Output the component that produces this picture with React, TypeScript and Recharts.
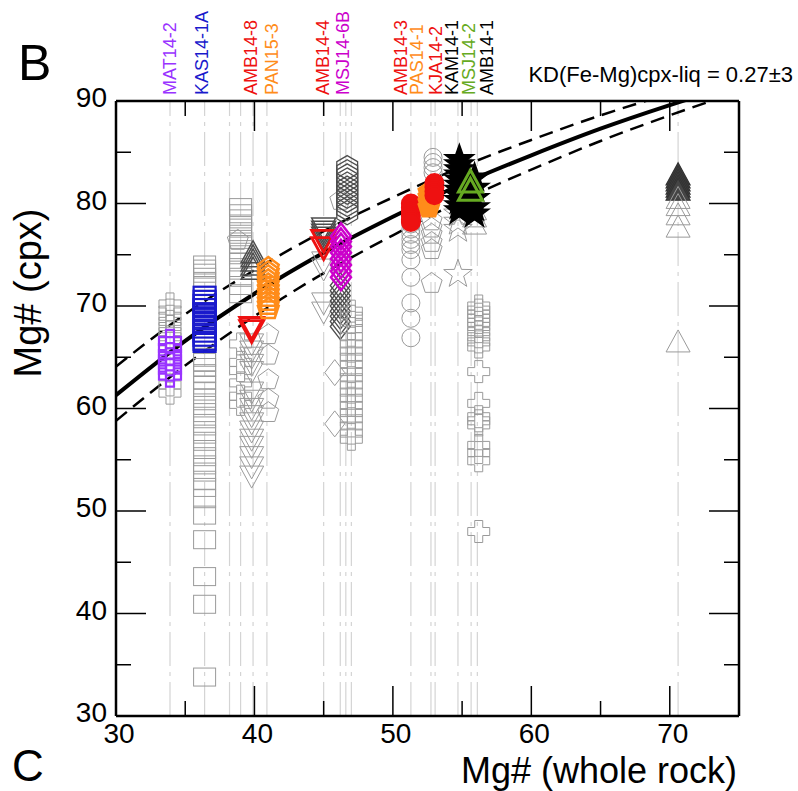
import React from 'react';
import { ComposedChart, XAxis, YAxis, Scatter, Line, ReferenceLine } from 'recharts';

const FONT = '"Liberation Sans", Arial, Helvetica, sans-serif';

// ---------- axes ----------
const xTicks = [30, 35, 40, 45, 50, 55, 60, 65, 70, 75];
const yTicks = [30, 35, 40, 45, 50, 55, 60, 65, 70, 75, 80, 85, 90];

// ---------- sample labels (top) ----------
const sampleNames = ['MAT14-2', 'KAS14-1A', 'AMB14-8', 'PAN15-3', 'AMB14-4', 'MSJ14-6B', 'AMB14-3', 'PAS14-1', 'KJA14-2', 'KAM14-1', 'MSJ14-2', 'AMB14-1'];
const sampleLabelX = [33.9, 36.2, 39.75, 41.25, 44.95, 46.4, 50.6, 51.75, 53.1, 54.3, 55.5, 56.8];
const sampleColors = ['#9933ff', '#1a1acc', '#ee1111', '#ff8c1a', '#ee1111', '#cc00cc', '#ee1111', '#ff8c1a', '#ee1111', '#000000', '#66aa22', '#000000'];

// ---------- whole-rock Mg# reference lines ----------
const wholeRockMg = [33.9, 36.4, 38.2, 39.0, 39.9, 40.9, 45.0, 46.2, 46.6, 47.0, 51.3, 52.75, 53.05, 54.7, 55.65, 56.1, 70.6];

// ---------- equilibrium curves ----------
const curveX = [30, 35, 40, 45, 50, 55, 60, 65, 70, 75];
const kd027 = [61.3, 66.6, 71.2, 75.2, 78.7, 81.9, 84.7, 87.3, 89.6, 91.7];
const kd024 = [64.1, 69.2, 73.5, 77.3, 80.6, 83.6, 86.2, 88.6, 90.7, 92.6];
const kd030 = [58.8, 64.2, 69.0, 73.2, 76.9, 80.3, 83.3, 86.1, 88.6, 90.9];

// ---------- cpx Mg# (grey: not in equilibrium) ----------
const matGrey = [70.2, 69.6, 69.0, 68.5, 68.0, 67.5, 67.0, 66.5, 62.3, 61.5];
const kasGrey = [74.0, 73.6, 73.2, 72.8, 72.4, 72.0, 65.0, 64.5, 64.0, 63.4, 62.8, 62.3, 61.7, 61.0, 60.3, 59.6, 59.0, 58.3, 57.5, 56.8, 56.0, 55.3, 54.5, 53.8, 53.0, 52.3, 51.2, 49.6, 47.2, 43.6, 40.9, 33.8];
const amb8GreySq = [79.6, 79.0, 78.5, 78.0, 77.6, 77.0, 76.5, 76.0, 75.5, 75.0, 74.3, 73.5, 72.8, 72.0, 71.2];
const amb8GreyCross = [66.3, 64.5, 63.7, 62.5, 61.2, 60.4];
const amb8GreyPent = [76.4];
const amb8DarkTri = [75.0, 74.6, 74.2, 73.8, 73.4];
const amb8GreyDTri = [66.5, 65.8, 65.2, 64.5, 63.8, 61.8, 61.0, 60.2, 59.5, 58.8, 58.0, 57.2, 56.5, 55.5, 54.5, 53.6];
const panGreyPent = [67.2, 65.2, 62.8, 60.9, 59.6];
const amb4DarkDTri = [77.8, 77.5, 77.2, 76.9];
const amb4GreyDTri = [74.5, 73.8, 70.5, 69.6];
const msj6GreyPent = [80.3, 74.2];
const msj6DarkHex = [83.5, 83.1, 82.7, 82.3, 81.9, 81.5, 81.1, 80.7, 80.3, 79.9, 79.5, 79.1];
const msj6DarkDiam = [72.0, 71.5, 71.0, 70.5, 70.0, 69.5, 69.0, 68.5, 68.0];
const msj6GreyDiam = [63.5, 58.5];
const msj6GreyCross = [69.5, 69.0, 68.4, 67.8, 67.0, 66.3, 65.6, 65.0, 64.3, 63.6, 63.0, 62.3, 61.6, 61.0, 60.3, 59.6, 59.0, 58.3, 57.6, 57.0];
const amb3GreyCirc = [78.4, 78.0, 77.5, 77.0, 76.5, 76.0, 75.5, 74.5, 72.8, 70.3, 68.8, 66.9];
const kjaGreyCirc = [84.5, 84.0, 83.5, 83.0];
const pasGreyPent = [78.3, 77.6, 77.0, 76.2, 75.5, 72.2];
const kamGreyStar = [79.0, 78.2, 77.5, 73.1];
const msj2GreyTri = [79.2, 78.5, 77.8];
const amb1GreyCross = [70.0, 69.6, 69.2, 68.8, 68.4, 68.0, 67.5, 67.0, 66.5, 66.0, 63.6, 60.5, 59.2, 58.8, 58.4, 56.4, 55.7, 54.9, 48.0];
const farDarkTri = [82.6, 82.3, 82.0, 81.7, 81.4, 81.1];
const farGreyTri = [80.3, 79.6, 78.7, 77.5, 66.3];

// ---------- cpx Mg# (coloured: in equilibrium) ----------
const mat142 = [66.6, 65.9, 65.3, 64.8, 64.3, 63.8, 63.2];
const kas141a = [71.0, 70.6, 70.2, 69.8, 69.4, 69.0, 68.6, 68.2, 67.8, 67.4, 67.0, 66.6, 66.4];
const amb148 = [68.1, 67.8];
const pan153 = [73.7, 73.3, 72.9, 72.5, 72.1, 71.7, 71.3, 70.9, 70.5, 70.1, 69.7];
const amb144 = [76.6, 75.9];
const msj146b = [76.8, 76.3, 75.8, 75.2, 74.6, 74.0, 73.4, 72.8];
const amb143 = [80.0, 79.6, 79.2, 78.8, 78.4, 78.2];
const pas141 = [81.1, 80.6, 80.1, 79.6];
const kja142 = [82.0, 81.6, 81.2, 80.8];
const kam141 = [84.3, 83.8, 83.3, 82.8, 82.3, 81.8, 81.3, 80.8, 80.3, 79.8, 79.3];
const amb141 = [82.5, 81.5, 80.5, 79.6, 79.0];
const msj142 = [81.9, 81.1];

// ---------- series table ----------
const LG = '#9a9a9a';
const DG = '#4d4d4d';
type Grp = { x: number; v: number[]; k: string; s: string; f?: string; w?: number };
const greyGroups: Grp[] = [
  { x: 33.9, v: matGrey, k: 'cross', s: LG },
  { x: 36.4, v: kasGrey, k: 'square', s: LG },
  { x: 39.0, v: amb8GreySq, k: 'square', s: LG },
  { x: 39.0, v: amb8GreyCross, k: 'cross', s: LG },
  { x: 38.8, v: amb8GreyPent, k: 'pent', s: LG },
  { x: 39.8, v: amb8GreyDTri, k: 'dtri', s: LG },
  { x: 39.9, v: amb8DarkTri, k: 'tri', s: DG, w: 1.5 },
  { x: 41.0, v: panGreyPent, k: 'pent', s: LG },
  { x: 45.0, v: amb4DarkDTri, k: 'dtri', s: DG, w: 1.5 },
  { x: 45.0, v: amb4GreyDTri, k: 'dtri', s: LG },
  { x: 46.2, v: msj6GreyPent, k: 'pent', s: LG },
  { x: 46.7, v: msj6DarkHex, k: 'hex', s: DG, w: 1.3 },
  { x: 46.2, v: msj6DarkDiam, k: 'diamond', s: DG, w: 1.3 },
  { x: 45.8, v: msj6GreyDiam, k: 'diamond', s: LG },
  { x: 47.0, v: msj6GreyCross, k: 'cross', s: LG },
  { x: 51.3, v: amb3GreyCirc, k: 'circle', s: LG },
  { x: 52.9, v: kjaGreyCirc, k: 'circle', s: LG },
  { x: 52.8, v: pasGreyPent, k: 'pent', s: LG },
  { x: 54.7, v: kamGreyStar, k: 'star', s: LG },
  { x: 55.9, v: msj2GreyTri, k: 'tri', s: LG },
  { x: 56.2, v: amb1GreyCross, k: 'cross', s: LG },
  { x: 70.6, v: farDarkTri, k: 'tri', s: '#333', f: '#454545', w: 1.2 },
  { x: 70.6, v: farGreyTri, k: 'tri', s: LG },
];
const colourGroups: Grp[] = [
  { x: 33.9, v: mat142, k: 'cross', s: '#9933ff', w: 2.2 },
  { x: 36.4, v: kas141a, k: 'square', s: '#1a1acc', w: 2.2 },
  { x: 39.8, v: amb148, k: 'dtri', s: '#ee1111', w: 2.8 },
  { x: 41.0, v: pan153, k: 'pent', s: '#ff8c1a', w: 2.5 },
  { x: 45.0, v: amb144, k: 'dtri', s: '#ee1111', w: 2.8 },
  { x: 46.25, v: msj146b, k: 'diamond', s: '#cc00cc', w: 2.5 },
  { x: 51.3, v: amb143, k: 'circle', s: '#ee1111', f: '#ee1111', w: 2 },
  { x: 52.6, v: pas141, k: 'pent', s: '#ff8c1a', f: '#ff8c1a', w: 2 },
  { x: 53.0, v: kja142, k: 'circle', s: '#ee1111', f: '#ee1111', w: 2 },
  { x: 54.8, v: kam141, k: 'star', s: '#000', f: '#000', w: 1.5 },
  { x: 55.9, v: amb141, k: 'star', s: '#000', f: '#000', w: 1.5 },
  { x: 55.6, v: msj142, k: 'tri', s: '#66aa22', w: 3 },
];

// ---------- markers ----------
function poly(cx: number, cy: number, n: number, r: number, rot: number) {
  const pts: string[] = [];
  for (let i = 0; i < n; i++) {
    const a = rot + (i * 2 * Math.PI) / n;
    pts.push(`${cx + r * Math.cos(a)},${cy + r * Math.sin(a)}`);
  }
  return pts.join(' ');
}
function starPts(cx: number, cy: number, ro: number, ri: number) {
  const pts: string[] = [];
  for (let i = 0; i < 10; i++) {
    const r = i % 2 === 0 ? ro : ri;
    const a = -Math.PI / 2 + (i * Math.PI) / 5;
    pts.push(`${cx + r * Math.cos(a)},${cy + r * Math.sin(a)}`);
  }
  return pts.join(' ');
}
function Marker(props: any) {
  const { cx, cy, k, s, f, w } = props;
  if (cx == null || cy == null) return null;
  const st = { stroke: s, fill: f || 'none', strokeWidth: w || 1 };
  switch (k) {
    case 'square':
      return <rect x={cx - 11} y={cy - 9} width={22} height={18} {...st} />;
    case 'cross': {
      const a = 11, b = 4;
      const d = `M${cx - b},${cy - a}H${cx + b}V${cy - b}H${cx + a}V${cy + b}H${cx + b}V${cy + a}H${cx - b}V${cy + b}H${cx - a}V${cy - b}H${cx - b}Z`;
      return <path d={d} {...st} />;
    }
    case 'circle':
      return <circle cx={cx} cy={cy} r={9} {...st} />;
    case 'tri':
      return <polygon points={`${cx},${cy - 14} ${cx + 12},${cy + 8} ${cx - 12},${cy + 8}`} {...st} />;
    case 'dtri':
      return <polygon points={`${cx},${cy + 14} ${cx + 12},${cy - 8} ${cx - 12},${cy - 8}`} {...st} />;
    case 'diamond':
      return <polygon points={`${cx},${cy - 13} ${cx + 10},${cy} ${cx},${cy + 13} ${cx - 10},${cy}`} {...st} />;
    case 'pent':
      return <polygon points={poly(cx, cy, 5, 11, -Math.PI / 2)} {...st} />;
    case 'hex':
      return <polygon points={poly(cx, cy, 6, 12, -Math.PI / 2)} {...st} />;
    case 'star':
      return <polygon points={starPts(cx, cy, 15, 6)} {...st} />;
    default:
      return null;
  }
}

// ---------- ticks ----------
const tickLine = { stroke: '#000', strokeWidth: 1.5 };
const BottomTick = (p: any) => {
  const v = p.payload.value;
  const major = v % 10 === 0;
  return (
    <g>
      <line x1={p.x} x2={p.x} y1={p.y} y2={p.y - (major ? 30 : 15)} {...tickLine} />
      {major && (
        <text x={p.x + 3} y={p.y + 27} textAnchor="middle" fontSize={28} fontFamily={FONT} fill="#000">{v}</text>
      )}
    </g>
  );
};
const TopTick = (p: any) => {
  const v = p.payload.value;
  const major = v % 10 === 0;
  return <line x1={p.x} x2={p.x} y1={p.y} y2={p.y + (major ? 30 : 15)} {...tickLine} />;
};
const LeftTick = (p: any) => {
  const v = p.payload.value;
  const major = v % 10 === 0;
  return (
    <g>
      <line x1={p.x} x2={p.x + (major ? 30 : 15)} y1={p.y} y2={p.y} {...tickLine} />
      {major && (
        <text x={p.x - 9} y={p.y + 6} textAnchor="end" fontSize={28} fontFamily={FONT} fill="#000">{v}</text>
      )}
    </g>
  );
};
const RightTick = (p: any) => {
  const v = p.payload.value;
  const major = v % 10 === 0;
  return <line x1={p.x} x2={p.x - (major ? 30 : 15)} y1={p.y} y2={p.y} {...tickLine} />;
};

const SampleLabel = (p: any) => {
  const d = p.payload || {};
  if (p.cx == null) return null;
  const x = p.cx;
  const y = p.cy - 6;
  return (
    <text x={x} y={y} transform={`rotate(-90 ${x} ${y})`} fill={d.color} fontSize={18} fontFamily={FONT} dominantBaseline="central">
      {d.name}
    </text>
  );
};

const toXY = (xs: number[], ys: number[]) => xs.map((x, i) => ({ x, y: ys[i] }));
const labelData = sampleNames.map((name, i) => ({ x: sampleLabelX[i], y: 90, name, color: sampleColors[i] }));

export default function App() {
  const axisLine = { stroke: '#000', strokeWidth: 2.5 };
  return (
    <div style={{ position: 'absolute', left: 0, top: 0, width: 798, height: 791, background: '#fff' }}>
      <ComposedChart width={798} height={791} margin={{ top: 0, right: 0, bottom: 0, left: 0 }}>
        <XAxis xAxisId="b" orientation="bottom" type="number" dataKey="x" domain={[30, 75]} ticks={xTicks} interval={0}
          allowDataOverflow height={75} tickSize={0} tickMargin={0} axisLine={axisLine} tickLine={false} tick={<BottomTick />} />
        <XAxis xAxisId="t" orientation="top" type="number" dataKey="x" domain={[30, 75]} ticks={xTicks} interval={0}
          height={101} tickSize={0} tickMargin={0} axisLine={axisLine} tickLine={false} tick={<TopTick />} />
        <YAxis yAxisId="l" orientation="left" type="number" dataKey="y" domain={[30, 90]} ticks={yTicks} interval={0}
          allowDataOverflow width={116} tickSize={0} tickMargin={0} axisLine={axisLine} tickLine={false} tick={<LeftTick />} />
        <YAxis yAxisId="r" orientation="right" type="number" dataKey="y" domain={[30, 90]} ticks={yTicks} interval={0}
          width={59} tickSize={0} tickMargin={0} axisLine={axisLine} tickLine={false} tick={<RightTick />} />

        {wholeRockMg.map((v, i) => (
          <ReferenceLine key={'wr' + i} x={v} xAxisId="b" yAxisId="l" stroke="#d4d4d4" strokeWidth={1.2} strokeDasharray="34 6 4 6" />
        ))}

        {greyGroups.map((g, i) => (
          <Scatter key={'g' + i} xAxisId="b" yAxisId="l" data={g.v.map((y) => ({ x: g.x, y }))} isAnimationActive={false}
            shape={(p: any) => <Marker {...p} k={g.k} s={g.s} f={g.f} w={g.w} />} />
        ))}

        <Line xAxisId="b" yAxisId="l" data={toXY(curveX, kd024)} dataKey="y" type="monotone" dot={false} stroke="#000" strokeWidth={2.5} strokeDasharray="14 8" isAnimationActive={false} />
        <Line xAxisId="b" yAxisId="l" data={toXY(curveX, kd030)} dataKey="y" type="monotone" dot={false} stroke="#000" strokeWidth={2.5} strokeDasharray="14 8" isAnimationActive={false} />
        <Line xAxisId="b" yAxisId="l" data={toXY(curveX, kd027)} dataKey="y" type="monotone" dot={false} stroke="#000" strokeWidth={4} isAnimationActive={false} />

        {colourGroups.map((g, i) => (
          <Scatter key={'c' + i} xAxisId="b" yAxisId="l" data={g.v.map((y) => ({ x: g.x, y }))} isAnimationActive={false}
            shape={(p: any) => <Marker {...p} k={g.k} s={g.s} f={g.f} w={g.w} />} />
        ))}

        <Scatter xAxisId="t" yAxisId="r" data={labelData} isAnimationActive={false} shape={(p: any) => <SampleLabel {...p} />} />
      </ComposedChart>
      <svg width={798} height={791} style={{ position: 'absolute', left: 0, top: 0, pointerEvents: 'none' }}>
        <text x={18} y={80} fontSize={50} fontFamily={FONT} fill="#000">B</text>
        <text x={12} y={781} fontSize={44} fontFamily={FONT} fill="#000">C</text>
        <text x={793} y={82} textAnchor="end" fontSize={22} fontFamily={FONT} fill="#000">KD(Fe-Mg)cpx-liq = 0.27±3</text>
        <text x={737} y={783} textAnchor="end" fontSize={36} fontFamily={FONT} fill="#000">Mg# (whole rock)</text>
        <text x={41} y={293} transform="rotate(-90 41 293)" textAnchor="middle" fontSize={38} fontFamily={FONT} fill="#000">Mg# (cpx)</text>
      </svg>
    </div>
  );
}
